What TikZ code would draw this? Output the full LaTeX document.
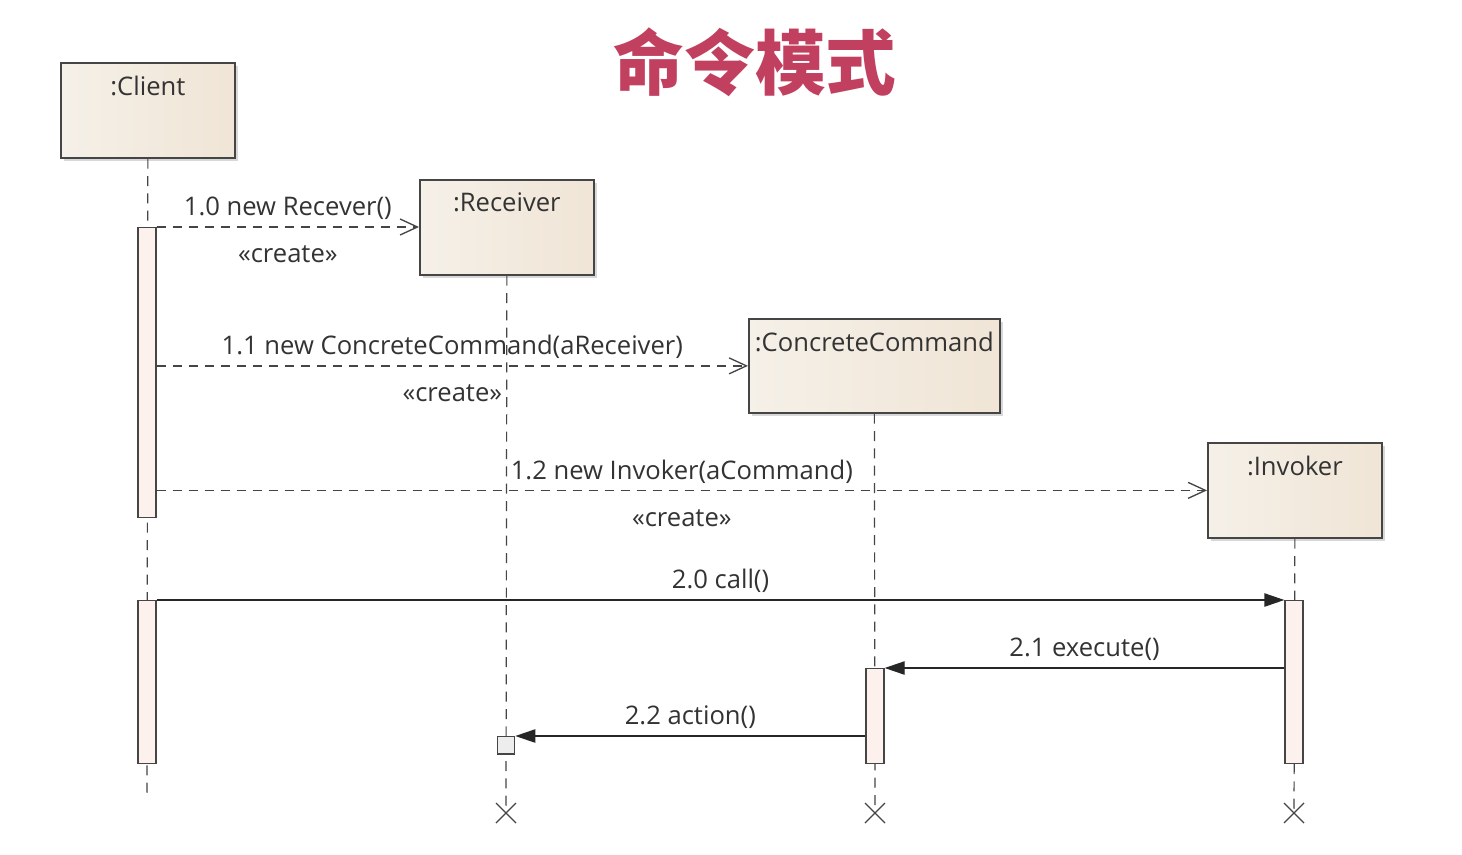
\documentclass[tikz,border=0pt]{standalone}
\usepackage{fontspec}
\setmainfont{Open Sans}
\newfontfamily\cjk{Noto Sans CJK SC}
\usetikzlibrary{arrows.meta, positioning, calc, shadows, shapes.misc}
\definecolor{boxleft}{HTML}{F5F0E8}
\definecolor{boxright}{HTML}{F0E5D6}
\definecolor{actfill}{HTML}{FCF1EC}
\definecolor{inkline}{HTML}{454545}
\definecolor{inktext}{HTML}{333333}
\definecolor{titlered}{HTML}{C2405F}

\begin{document}
\begin{tikzpicture}[x=0.75pt, y=-0.75pt, font=\fontsize{19.2}{23}\selectfont,
  obj/.style={draw=inkline, line width=1.3pt, left color=boxleft, right color=boxright,
    anchor=north west, minimum height=71.25pt, inner sep=0pt,
    drop shadow={shadow xshift=2.5pt, shadow yshift=-2.5pt, opacity=0.3},
    label={[anchor=north, yshift=-7pt, text=inktext]north:{#1}}},
  act/.style={draw=inkline, line width=1pt, fill=actfill, minimum width=13.5pt,
    anchor=north, inner sep=0pt},
  life/.style={draw=inkline, line width=0.9pt, dash pattern=on 7.5pt off 5.5pt},
  endmark/.style={draw=inkline, line width=1pt, cross out, minimum size=14pt, inner sep=0pt},
  create/.style={draw=inkline, line width=1pt, dash pattern=on 7pt off 5pt,
    -{Straight Barb[length=13pt, width=12pt]}},
  call/.style={draw=black!85, line width=1pt, -{Triangle[length=15pt, width=10pt]}},
  msg/.style={midway, above=1.5pt, text=inktext},
  stereo/.style={midway, below=10.5pt, text=inktext}]

  \useasboundingbox[fill=white] (0,0) rectangle (1462,854);

  % title
  \node[font=\cjk\bfseries\fontsize{53}{53}\selectfont, text=titlered] (title) at (755,62) {命令模式};

  % objects
  \node[obj=:Client, minimum width=130.5pt] (client) at (60,62) {};
  \node[obj=:Receiver, minimum width=130.5pt] (recv) at (419,179) {};
  \node[obj=:ConcreteCommand, minimum width=188.25pt, minimum height=70.5pt] (cc) at (748,318) {};
  \node[obj=:Invoker, minimum width=130.5pt] (inv) at (1207,442) {};

  % ends of the lifelines
  \coordinate (clientend) at (147,795);
  \node[endmark] (recvx) at (506,813) {};
  \node[endmark] (ccx) at (875,813) {};
  \node[endmark] (invx) at (1294,813) {};

  \draw[life] (client.south) -- (clientend);
  \draw[life] (recv.south) -- (recvx.center);
  \draw[life] (cc.south) -- (ccx.center);
  \draw[life] (inv.south) -- (invx.center);

  % activations
  \node[act, minimum height=217.5pt] (clientact1) at (147,227) {};
  \node[act, minimum height=122.25pt] (clientact2) at (147,600) {};
  \node[act, minimum height=122.25pt] (invact) at (1294,600) {};
  \node[act, minimum height=71.25pt] (ccact) at (875,668) {};
  \node[draw=inkline, line width=1pt, fill=black!7, minimum size=13pt, inner sep=0pt,
    anchor=north] (recvact) at (506,736) {};

  % creation messages
  \draw[create] (clientact1.north east) -- (clientact1.north east -| recv.west)
    node[msg] (m10) {1.0 new Recever()} node[stereo] (s10) {«create»};
  \draw[create] (clientact1.east |- cc.west) -- (cc.west)
    node[msg] (m11) {1.1 new ConcreteCommand(aReceiver)} node[stereo] (s11) {«create»};
  \draw[create] (clientact1.east |- inv.west) -- (inv.west)
    node[msg] (m12) {1.2 new Invoker(aCommand)} node[stereo] (s12) {«create»};

  % calls
  \draw[call] (clientact2.north east) -- (invact.north west)
    node[msg] (m20) {2.0 call()};
  \draw[call] (invact.west |- ccact.north) -- (ccact.north east)
    node[msg] (m21) {2.1 execute()};
  \draw[call] (ccact.west |- recvact.north) -- (recvact.north east)
    node[msg] (m22) {2.2 action()};
\end{tikzpicture}
\end{document}
